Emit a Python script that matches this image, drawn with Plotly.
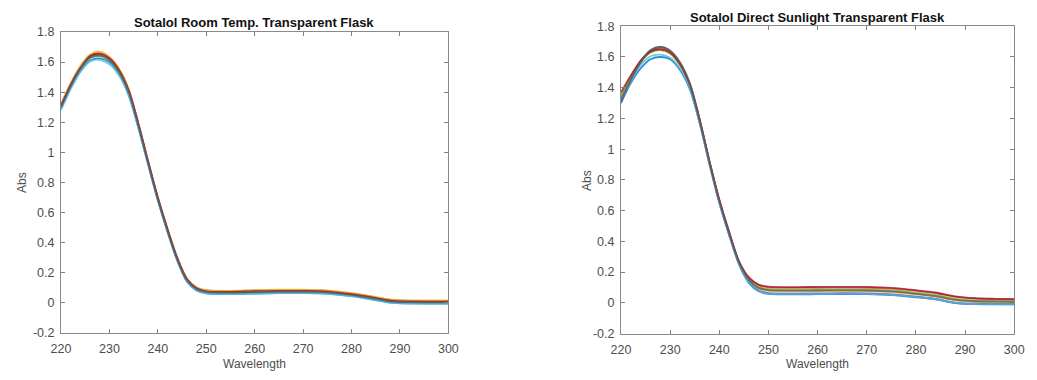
import plotly.graph_objects as go

wavelength = [220, 222, 224, 226, 228, 230, 232, 234, 236, 238, 240, 242, 244, 246,
              248, 250, 255, 260, 265, 270, 275, 280, 284, 288, 292, 296, 300]

# Room temperature, transparent flask
room_1 = [1.29, 1.43, 1.54, 1.61, 1.625, 1.60, 1.52, 1.38, 1.16, 0.92, 0.68, 0.47, 0.28, 0.14, 0.08, 0.06, 0.057, 0.06, 0.063, 0.063, 0.06, 0.043, 0.022, 0.0, -0.006, -0.007, -0.007]
room_2 = [1.31, 1.45, 1.56, 1.64, 1.66, 1.63, 1.55, 1.41, 1.19, 0.94, 0.70, 0.49, 0.30, 0.16, 0.10, 0.08, 0.076, 0.08, 0.082, 0.082, 0.078, 0.06, 0.04, 0.017, 0.011, 0.011, 0.011]
room_3 = [1.32, 1.46, 1.575, 1.65, 1.67, 1.635, 1.555, 1.42, 1.19, 0.94, 0.70, 0.49, 0.30, 0.16, 0.10, 0.082, 0.078, 0.082, 0.085, 0.085, 0.08, 0.062, 0.042, 0.02, 0.014, 0.014, 0.014]
room_4 = [1.30, 1.44, 1.555, 1.63, 1.645, 1.615, 1.535, 1.40, 1.18, 0.93, 0.69, 0.48, 0.29, 0.15, 0.09, 0.068, 0.065, 0.068, 0.07, 0.07, 0.066, 0.05, 0.03, 0.007, 0.001, 0.0, 0.0]
room_5 = [1.30, 1.44, 1.55, 1.625, 1.64, 1.61, 1.53, 1.395, 1.175, 0.93, 0.69, 0.48, 0.29, 0.15, 0.088, 0.066, 0.063, 0.067, 0.069, 0.069, 0.065, 0.048, 0.028, 0.005, -0.001, -0.002, -0.002]
room_6 = [1.28, 1.42, 1.535, 1.605, 1.615, 1.585, 1.51, 1.375, 1.16, 0.915, 0.68, 0.47, 0.28, 0.14, 0.08, 0.06, 0.056, 0.06, 0.062, 0.062, 0.058, 0.042, 0.021, -0.001, -0.007, -0.008, -0.008]
room_7 = [1.31, 1.45, 1.56, 1.64, 1.655, 1.625, 1.545, 1.41, 1.185, 0.935, 0.695, 0.485, 0.295, 0.155, 0.095, 0.074, 0.071, 0.075, 0.077, 0.077, 0.073, 0.056, 0.036, 0.013, 0.007, 0.006, 0.006]
room_8 = [1.30, 1.44, 1.555, 1.63, 1.645, 1.615, 1.535, 1.40, 1.18, 0.93, 0.69, 0.48, 0.29, 0.15, 0.09, 0.07, 0.066, 0.07, 0.072, 0.072, 0.068, 0.051, 0.031, 0.008, 0.002, 0.001, 0.001]

# Direct sunlight, transparent flask
sun_1 = [1.30, 1.43, 1.525, 1.585, 1.60, 1.585, 1.515, 1.39, 1.17, 0.90, 0.65, 0.44, 0.25, 0.13, 0.075, 0.058, 0.055, 0.056, 0.057, 0.056, 0.05, 0.036, 0.022, -0.002, -0.008, -0.01, -0.01]
sun_2 = [1.34, 1.47, 1.575, 1.64, 1.655, 1.63, 1.555, 1.42, 1.19, 0.92, 0.67, 0.46, 0.27, 0.165, 0.115, 0.10, 0.097, 0.098, 0.099, 0.098, 0.092, 0.077, 0.063, 0.038, 0.028, 0.024, 0.022]
sun_3 = [1.33, 1.46, 1.565, 1.63, 1.645, 1.62, 1.545, 1.41, 1.18, 0.91, 0.66, 0.45, 0.26, 0.145, 0.092, 0.078, 0.075, 0.076, 0.077, 0.076, 0.07, 0.055, 0.04, 0.015, 0.006, 0.003, 0.002]
sun_4 = [1.31, 1.45, 1.565, 1.64, 1.665, 1.64, 1.56, 1.425, 1.19, 0.915, 0.66, 0.45, 0.26, 0.14, 0.08, 0.063, 0.06, 0.061, 0.062, 0.061, 0.055, 0.04, 0.025, 0.0, -0.006, -0.008, -0.009]
sun_5 = [1.35, 1.47, 1.57, 1.63, 1.645, 1.625, 1.55, 1.415, 1.185, 0.915, 0.665, 0.455, 0.265, 0.155, 0.103, 0.088, 0.085, 0.086, 0.087, 0.086, 0.08, 0.065, 0.05, 0.026, 0.016, 0.013, 0.012]
sun_6 = [1.32, 1.44, 1.545, 1.605, 1.615, 1.595, 1.525, 1.395, 1.17, 0.905, 0.655, 0.445, 0.255, 0.135, 0.078, 0.06, 0.057, 0.058, 0.059, 0.058, 0.052, 0.038, 0.023, -0.001, -0.007, -0.009, -0.01]
sun_7 = [1.37, 1.48, 1.575, 1.635, 1.65, 1.63, 1.555, 1.42, 1.19, 0.92, 0.67, 0.46, 0.27, 0.165, 0.118, 0.105, 0.102, 0.103, 0.104, 0.103, 0.097, 0.082, 0.067, 0.042, 0.03, 0.026, 0.024]
sun_8 = [1.32, 1.45, 1.565, 1.645, 1.665, 1.64, 1.565, 1.43, 1.195, 0.92, 0.665, 0.455, 0.265, 0.15, 0.097, 0.082, 0.079, 0.08, 0.081, 0.08, 0.074, 0.058, 0.043, 0.019, 0.01, 0.007, 0.006]

room_series = [room_1, room_2, room_3, room_4, room_5, room_6, room_7, room_8]
sun_series = [sun_1, sun_2, sun_3, sun_4, sun_5, sun_6, sun_7, sun_8]
colors = ["#0072BD", "#D95319", "#EDB120", "#7E2F8E", "#77AC30", "#4DBEEE", "#A2142F", "#5a5f66"]

y_tickvals = [-0.2, 0, 0.2, 0.4, 0.6, 0.8, 1.0, 1.2, 1.4, 1.6, 1.8]
y_ticktext = ["-0.2", "0", "0.2", "0.4", "0.6", "0.8", "1", "1.2", "1.4", "1.6", "1.8"]
x_tickvals = [220, 230, 240, 250, 260, 270, 280, 290, 300]

fig = go.Figure()
for ys, c in zip(room_series, colors):
    fig.add_trace(go.Scatter(x=wavelength, y=ys, mode="lines", line=dict(color=c, width=1.8, shape="spline", smoothing=0.8),
                             opacity=0.8, xaxis="x", yaxis="y", showlegend=False))
for ys, c in zip(sun_series, colors):
    fig.add_trace(go.Scatter(x=wavelength, y=ys, mode="lines", line=dict(color=c, width=1.8, shape="spline", smoothing=0.8),
                             opacity=0.8, xaxis="x2", yaxis="y2", showlegend=False))

W, H = 1037, 380
tickfont = dict(family="Liberation Sans, Arial, sans-serif", size=12.5, color="#4d4d4d")
common_x = dict(range=[220, 300], tickvals=x_tickvals, ticks="inside", ticklen=4, tickcolor="#808080",
                showline=True, linecolor="#8a8a8a", linewidth=1, mirror="ticks", showgrid=False,
                zeroline=False, tickfont=tickfont, ticklabelstandoff=4)
common_y = dict(range=[-0.2, 1.8], tickvals=y_tickvals, ticktext=y_ticktext, ticks="inside", ticklen=4,
                tickcolor="#808080", showline=True, linecolor="#8a8a8a", linewidth=1, mirror="ticks",
                showgrid=False, zeroline=False, tickfont=tickfont, ticklabelstandoff=3)

fig.update_layout(
    width=W, height=H, margin=dict(l=0, r=0, t=0, b=0),
    paper_bgcolor="white", plot_bgcolor="white",
    xaxis=dict(domain=[52 / W, 447 / W], anchor="y", **common_x),
    yaxis=dict(domain=[1 - 338 / H, 1 - 26 / H], anchor="x", **common_y),
    xaxis2=dict(domain=[623 / W, 1024 / W], anchor="y2", **common_x),
    yaxis2=dict(domain=[1 - 339 / H, 1 - 20 / H], anchor="x2", **common_y),
)

title_font = dict(family="Liberation Sans, Arial, sans-serif", size=13, color="#111111")
label_font = dict(family="Liberation Sans, Arial, sans-serif", size=12, color="#4d4d4d")
annots = [
    dict(text="<b>Sotalol Room Temp. Transparent Flask</b>", x=249 / W, y=1 - 16 / H, font=title_font),
    dict(text="<b>Sotalol Direct Sunlight Transparent Flask</b>", x=823 / W, y=1 - 11 / H, font=title_font),
    dict(text="Wavelength", x=249 / W, y=1 - 371 / H, font=label_font),
    dict(text="Wavelength", x=823 / W, y=1 - 371 / H, font=label_font),
    dict(text="Abs", x=13 / W, y=1 - 182 / H, font=label_font, textangle=-90),
    dict(text="Abs", x=589 / W, y=1 - 180 / H, font=label_font, textangle=-90),
]
for a in annots:
    fig.add_annotation(xref="paper", yref="paper", showarrow=False, xanchor="center", yanchor="middle", **a)

fig.write_html("out.html")
